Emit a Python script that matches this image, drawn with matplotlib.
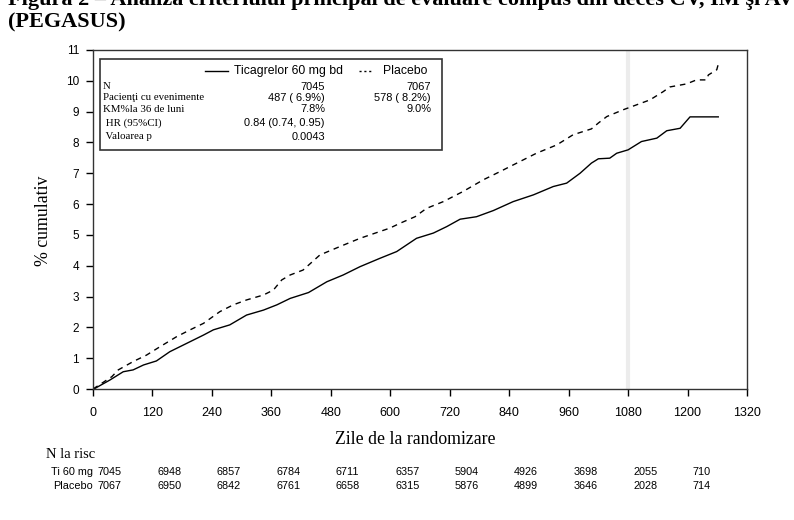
import matplotlib
matplotlib.use("Agg")
import matplotlib.pyplot as plt
from matplotlib.patches import Rectangle

plt.rcParams['font.family'] = 'Liberation Sans'
SERIF = 'Liberation Serif'

# cumulative % curves
tica_days = [0, 4, 34, 61, 81, 102, 128, 155, 189, 223, 243, 276, 310, 344, 371, 398,
             435, 472, 505, 539, 579, 613, 653, 687, 714, 741, 774, 808, 848, 889, 929,
             956, 983, 1006, 1020, 1043, 1057, 1080, 1107, 1138, 1158, 1185, 1205, 1262]
tica_pct = [0, 0.02, 0.29, 0.56, 0.62, 0.78, 0.91, 1.21, 1.48, 1.75, 1.92, 2.08, 2.40, 2.56,
            2.73, 2.94, 3.13, 3.48, 3.70, 3.97, 4.24, 4.46, 4.89, 5.06, 5.27, 5.51, 5.59,
            5.79, 6.08, 6.30, 6.57, 6.68, 7.00, 7.33, 7.47, 7.49, 7.65, 7.76, 8.03, 8.14,
            8.38, 8.46, 8.83, 8.83]

plac_days = [0, 38, 51, 81, 108, 135, 169, 196, 223, 256, 283, 310, 344, 364, 381, 398,
             424, 458, 498, 539, 579, 599, 620, 650, 673, 707, 747, 788, 821, 848, 895,
             936, 969, 1006, 1020, 1037, 1070, 1097, 1124, 1151, 1164, 1198, 1218, 1238,
             1242, 1259, 1262]
plac_pct = [0, 0.40, 0.62, 0.89, 1.10, 1.37, 1.70, 1.92, 2.13, 2.51, 2.73, 2.89, 3.05, 3.21,
            3.54, 3.70, 3.86, 4.35, 4.62, 4.89, 5.11, 5.22, 5.38, 5.59, 5.86, 6.08, 6.41,
            6.79, 7.05, 7.27, 7.65, 7.92, 8.25, 8.44, 8.63, 8.84, 9.06, 9.22, 9.38, 9.65,
            9.80, 9.90, 10.03, 10.03, 10.19, 10.36, 10.54]

x_ticks = list(range(0, 1321, 120))
y_ticks = list(range(0, 12))

# number at risk
risk_days = [0, 120, 240, 360, 480, 600, 720, 840, 960, 1080, 1200]
risk_tica = [7045, 6948, 6857, 6784, 6711, 6357, 5904, 4926, 3698, 2055, 710]
risk_plac = [7067, 6950, 6842, 6761, 6658, 6315, 5876, 4899, 3646, 2028, 714]

# summary box
box_rows = ["N", "Pacienţi cu evenimente", "KM%la 36 de luni", " HR (95%CI)", " Valoarea p"]
box_tica = ["7045", "487 ( 6.9%)", "7.8%", "0.84 (0.74, 0.95)", "0.0043"]
box_plac = ["7067", "578 ( 8.2%)", "9.0%", "", ""]

W, H = 794, 520
L, R, T, B = 93, 747, 50, 389


def fx(px):
    return px / W


def fy(py):
    return 1 - py / H


def ax_x(px):
    return (px - L) / (R - L)


def ax_y(py):
    return (B - py) / (B - T)


fig = plt.figure(figsize=(W / 100, H / 100), dpi=100)
ax = fig.add_axes([L / W, 1 - B / H, (R - L) / W, (B - T) / H])

ax.axvline(1080, color='#ececec', lw=3, zorder=0)
ax.plot(tica_days, tica_pct, color='black', lw=1.0)
ax.plot(plac_days, plac_pct, color='black', lw=1.0, dashes=(4, 3.5))

ax.set_xlim(0, 1320)
ax.set_ylim(0, 11)
ax.set_xticks(x_ticks)
ax.set_yticks(y_ticks)
ax.tick_params(axis='x', direction='out', length=5, width=1, labelsize=9, pad=8)
ax.tick_params(axis='y', direction='out', length=5, width=1, labelsize=8.5, pad=5)
for s in ax.spines.values():
    s.set_color('#333333')
    s.set_linewidth(1.0)

# summary box
ax.add_patch(Rectangle((ax_x(100), ax_y(150)), ax_x(442) - ax_x(100), ax_y(59) - ax_y(150),
                       transform=ax.transAxes, fill=False, edgecolor='#333333', lw=1.2,
                       clip_on=False))
ax.plot([ax_x(205), ax_x(228)], [ax_y(71)] * 2, transform=ax.transAxes, color='black', lw=1.0)
ax.text(ax_x(234), ax_y(71), "Ticagrelor 60 mg bd", transform=ax.transAxes,
        fontsize=8.8, va='center', ha='left')
ax.plot([ax_x(359), ax_x(373)], [ax_y(71)] * 2, transform=ax.transAxes, color='black',
        lw=1.0, dashes=(1.5, 2))
ax.text(ax_x(383), ax_y(71), "Placebo", transform=ax.transAxes,
        fontsize=8.8, va='center', ha='left')
row_y = [86.5, 98, 109.5, 123, 136.5]
for lab, v1, v2, py in zip(box_rows, box_tica, box_plac, row_y):
    ax.text(ax_x(103), ax_y(py), lab, transform=ax.transAxes, family=SERIF,
            fontsize=7.8, va='center', ha='left')
    ax.text(ax_x(325), ax_y(py), v1, transform=ax.transAxes,
            fontsize=7.9, va='center', ha='right')
    if v2:
        ax.text(ax_x(431), ax_y(py), v2, transform=ax.transAxes,
                fontsize=7.9, va='center', ha='right')

# axis labels
fig.text(fx(415), fy(439), "Zile de la randomizare", family=SERIF, fontsize=12.75,
         ha='center', va='center')
fig.text(fx(44), fy(221), "% cumulativ", family=SERIF, fontsize=12.75,
         ha='center', va='center', rotation=90)

# number at risk table
fig.text(fx(46), fy(454), "N la risc", family=SERIF, fontsize=10.5, ha='left', va='center')
for name, counts, py in (("Ti 60 mg", risk_tica, 472), ("Placebo", risk_plac, 486)):
    fig.text(fx(93), fy(py), name, fontsize=7.8, ha='right', va='center')
    for d, n in zip(risk_days, counts):
        ax.annotate(str(n), xy=(d, fy(py)), xycoords=('data', 'figure fraction'),
                    xytext=(3.6, 0), textcoords='offset points',
                    fontsize=7.8, ha='left', va='center', annotation_clip=False)

# title (first line cut by the top edge, as in the source page)
fig.text(fx(8), fy(5), "Figura 2 – Analiza criteriului principal de evaluare compus din deces CV, IM şi AVC",
         family=SERIF, weight='bold', fontsize=16, ha='left', va='baseline')
fig.text(fx(8), fy(22), "(PEGASUS)", family=SERIF, weight='bold', fontsize=16,
         ha='left', va='center')

fig.savefig("out.png", dpi=100)
